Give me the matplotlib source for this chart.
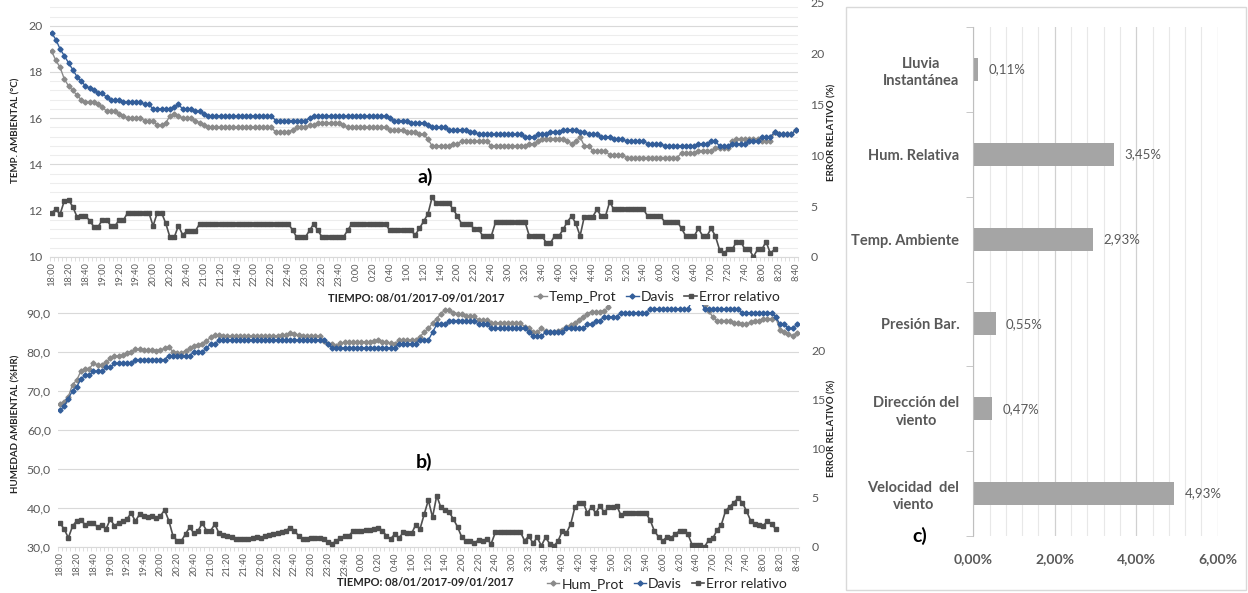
import numpy as np
import matplotlib.pyplot as plt
from matplotlib.lines import Line2D
from matplotlib.patches import Rectangle
from matplotlib.ticker import MultipleLocator, FuncFormatter

plt.rcParams['font.family'] = ['Lato', 'DejaVu Sans']

# x axis: one reading every 5 minutes, a label every 20 minutes
time_labels = ["18:00", "18:20", "18:40", "19:00", "19:20", "19:40", "20:00", "20:20", "20:40",
               "21:00", "21:20", "21:40", "22:00", "22:20", "22:40", "23:00", "23:20", "23:40",
               "0:00", "0:20", "0:40", "1:00", "1:20", "1:40", "2:00", "2:20", "2:40",
               "3:00", "3:20", "3:40", "4:00", "4:20", "4:40", "5:00", "5:20", "5:40",
               "6:00", "6:20", "6:40", "7:00", "7:20", "7:40", "8:00", "8:20", "8:40"]

# a) temperatura (°C) and relative error (%)
temp_prot = [18.9, 18.5, 18.2, 17.7, 17.4, 17.2, 17.0, 16.8, 16.7, 16.7, 16.7, 16.6,
             16.5, 16.3, 16.3, 16.3, 16.2, 16.1, 16.0, 16.0, 16.0, 16.0, 15.9, 15.9,
             15.9, 15.7, 15.7, 15.8, 16.1, 16.2, 16.1, 16.0, 16.0, 16.0, 15.9, 15.8,
             15.7, 15.6, 15.6, 15.6, 15.6, 15.6, 15.6, 15.6, 15.6, 15.6, 15.6, 15.6,
             15.6, 15.6, 15.6, 15.6, 15.6, 15.4, 15.4, 15.4, 15.4, 15.5, 15.6, 15.6,
             15.6, 15.7, 15.7, 15.8, 15.8, 15.8, 15.8, 15.8, 15.8, 15.7, 15.6, 15.6,
             15.6, 15.6, 15.6, 15.6, 15.6, 15.6, 15.6, 15.6, 15.5, 15.5, 15.5, 15.5,
             15.4, 15.4, 15.4, 15.3, 15.3, 15.1, 14.8, 14.8, 14.8, 14.8, 14.8, 14.9,
             14.9, 15.0, 15.0, 15.0, 15.0, 15.0, 15.0, 15.0, 14.8, 14.8, 14.8, 14.8,
             14.8, 14.8, 14.8, 14.8, 14.8, 14.9, 14.9, 15.0, 15.1, 15.1, 15.1, 15.1,
             15.1, 15.1, 15.0, 14.9, 15.0, 15.2, 14.8, 14.8, 14.6, 14.6, 14.6, 14.6,
             14.4, 14.4, 14.4, 14.4, 14.3, 14.3, 14.3, 14.3, 14.3, 14.3, 14.3, 14.3,
             14.3, 14.3, 14.3, 14.3, 14.3, 14.5, 14.5, 14.5, 14.5, 14.6, 14.6, 14.6,
             14.6, 14.7, 14.7, 14.7, 14.7, 15.0, 15.1, 15.1, 15.1, 15.1, 15.1, 15.1,
             15.0, 15.0, 15.0, 15.4, 15.3, 15.3, 15.3, 15.3, 15.5]

temp_davis = [19.7, 19.4, 19.0, 18.7, 18.4, 18.1, 17.8, 17.6, 17.4, 17.3, 17.2, 17.1,
              17.1, 16.9, 16.8, 16.8, 16.8, 16.7, 16.7, 16.7, 16.7, 16.7, 16.6, 16.6,
              16.4, 16.4, 16.4, 16.4, 16.4, 16.5, 16.6, 16.4, 16.4, 16.4, 16.3, 16.3,
              16.2, 16.1, 16.1, 16.1, 16.1, 16.1, 16.1, 16.1, 16.1, 16.1, 16.1, 16.1,
              16.1, 16.1, 16.1, 16.1, 16.1, 15.9, 15.9, 15.9, 15.9, 15.9, 15.9, 15.9,
              15.9, 16.0, 16.1, 16.1, 16.1, 16.1, 16.1, 16.1, 16.1, 16.1, 16.1, 16.1,
              16.1, 16.1, 16.1, 16.1, 16.1, 16.1, 16.1, 16.1, 16.0, 15.9, 15.9, 15.9,
              15.9, 15.8, 15.8, 15.8, 15.8, 15.7, 15.6, 15.6, 15.6, 15.6, 15.5, 15.5,
              15.5, 15.5, 15.5, 15.4, 15.4, 15.3, 15.3, 15.3, 15.3, 15.3, 15.3, 15.3,
              15.3, 15.3, 15.3, 15.3, 15.2, 15.2, 15.2, 15.3, 15.3, 15.3, 15.4, 15.4,
              15.4, 15.5, 15.5, 15.5, 15.5, 15.4, 15.4, 15.3, 15.3, 15.3, 15.2, 15.2,
              15.2, 15.1, 15.1, 15.1, 15.0, 15.0, 15.0, 15.0, 15.0, 14.9, 14.9, 14.9,
              14.9, 14.8, 14.8, 14.8, 14.8, 14.8, 14.8, 14.8, 14.8, 14.9, 14.9, 14.9,
              15.0, 15.0, 14.8, 14.8, 14.8, 14.9, 14.9, 14.9, 14.9, 15.0, 15.0, 15.0,
              15.2, 15.2, 15.2, 15.4, 15.3, 15.3, 15.3, 15.3, 15.5]

temp_error = [4.35, 4.67, 4.2, 5.5, 5.6, 4.93, 3.95, 4.05, 4.05, 3.56, 2.97, 2.97,
              3.63, 3.63, 3.07, 3.07, 3.63, 3.63, 4.35, 4.35, 4.35, 4.35, 4.35, 4.35,
              3.04, 4.35, 4.35, 3.3, 1.93, 1.93, 3.07, 2.16, 2.55, 2.55, 2.55, 3.24,
              3.24, 3.24, 3.24, 3.24, 3.24, 3.24, 3.24, 3.24, 3.24, 3.24, 3.24, 3.24,
              3.24, 3.24, 3.24, 3.24, 3.24, 3.24, 3.24, 3.24, 3.24, 2.65, 1.93, 1.93,
              1.93, 2.6, 3.24, 2.6, 1.93, 1.93, 1.93, 1.93, 1.93, 1.93, 2.6, 3.24,
              3.24, 3.24, 3.24, 3.24, 3.24, 3.24, 3.24, 3.24, 2.6, 2.6, 2.6, 2.6,
              2.6, 2.6, 2.16, 2.8, 3.5, 4.2, 5.85, 5.26, 5.26, 5.26, 5.26, 4.67,
              4.0, 3.24, 3.24, 3.24, 2.7, 2.7, 2.06, 2.06, 2.06, 3.4, 3.4, 3.4,
              3.4, 3.4, 3.4, 3.4, 3.4, 2.06, 2.06, 2.06, 2.06, 1.4, 1.4, 2.06,
              2.06, 2.7, 3.46, 4.0, 3.3, 2.06, 3.95, 3.95, 3.95, 4.67, 4.0, 4.0,
              5.4, 4.67, 4.67, 4.67, 4.67, 4.67, 4.67, 4.67, 4.67, 4.0, 4.0, 4.0,
              4.0, 3.46, 3.46, 3.46, 3.46, 2.8, 2.06, 2.06, 2.06, 2.8, 2.06, 2.06,
              2.8, 2.06, 0.7, 0.36, 0.75, 0.75, 1.5, 1.5, 0.75, 0.75, 0.03, 0.75,
              0.75, 1.5, 0.36, 0.75]

# b) humedad (%HR) and relative error (%)
hum_prot = [66.6, 67.2, 68.5, 71.6, 72.7, 75.1, 75.7, 75.7, 77.0, 76.6, 76.6, 77.4,
            78.3, 78.9, 78.9, 79.1, 79.6, 80.0, 80.6, 80.6, 80.4, 80.4, 80.4, 80.3,
            80.4, 80.9, 81.2, 80.0, 79.6, 79.6, 80.3, 80.9, 81.5, 81.7, 82.1, 82.8,
            83.7, 84.3, 84.3, 84.0, 84.0, 84.0, 84.0, 84.0, 84.0, 84.0, 84.1, 84.1,
            84.1, 84.1, 84.1, 84.1, 84.1, 84.2, 84.4, 84.8, 84.6, 84.2, 84.0, 84.0,
            84.0, 84.0, 84.0, 82.8, 82.1, 82.1, 81.5, 82.2, 82.4, 82.4, 82.5, 82.5,
            82.5, 82.6, 82.5, 82.7, 82.9, 82.6, 82.4, 82.2, 82.0, 83.0, 83.0, 83.0,
            83.0, 83.0, 83.8, 85.1, 86.0, 87.3, 88.5, 89.8, 90.7, 90.7, 90.0, 89.8,
            89.6, 89.1, 89.1, 89.1, 88.1, 88.1, 88.1, 87.3, 87.3, 87.4, 87.4, 87.4,
            87.4, 87.4, 87.4, 86.4, 86.0, 85.1, 85.1, 86.0, 85.3, 85.0, 85.0, 85.3,
            85.5, 86.4, 86.8, 87.3, 88.2, 89.0, 89.8, 90.3, 90.3, 90.3, 90.5, 91.5,
            93.0, 94.0, 95.0, 95.0, 95.0, 95.0, 95.0, 95.0, 95.0, 95.0, 95.0, 95.0,
            95.0, 95.0, 95.0, 95.0, 95.0, 95.0, 95.0, 95.0, 94.0, 93.0, 92.0, 90.5,
            88.8, 88.0, 88.0, 88.0, 88.0, 87.3, 87.3, 87.0, 87.0, 87.6, 87.8, 88.0,
            88.5, 88.5, 88.5, 88.8, 85.6, 85.0, 84.6, 84.1, 84.9]

hum_davis = [65, 66, 68, 70, 71, 73, 74, 74, 75, 75, 75, 76,
             76, 77, 77, 77, 77, 77, 78, 78, 78, 78, 78, 78,
             78, 78, 79, 79, 79, 79, 79, 79, 80, 80, 80, 81,
             82, 82, 83, 83, 83, 83, 83, 83, 83, 83, 83, 83,
             83, 83, 83, 83, 83, 83, 83, 83, 83, 83, 83, 83,
             83, 83, 83, 83, 82, 81, 81, 81, 81, 81, 81, 81,
             81, 81, 81, 81, 81, 81, 81, 81, 81, 82, 82, 82,
             82, 82, 83, 83, 83, 85, 87, 87, 87, 88, 88, 88,
             88, 88, 88, 88, 87, 87, 87, 86, 86, 86, 86, 86,
             86, 86, 86, 86, 85, 84, 84, 84, 85, 85, 85, 85,
             85, 86, 86, 86, 86, 86, 87, 87, 88, 88, 89, 89,
             89, 89, 90, 90, 90, 90, 90, 90, 90, 91, 91, 91,
             91, 91, 91, 91, 91, 91, 91, 93, 93, 93, 91, 91,
             91, 91, 91, 91, 91, 91, 91, 90, 90, 90, 90, 90,
             90, 90, 90, 89, 87, 87, 86, 86, 87]

hum_error = [2.4, 1.8, 0.9, 2.1, 2.65, 2.7, 2.25, 2.4, 2.4, 2.0, 2.25, 1.8,
             2.8, 2.15, 2.4, 2.6, 2.8, 3.45, 2.6, 3.3, 3.15, 3.05, 3.15, 2.95,
             3.15, 3.75, 2.65, 1.1, 0.6, 0.6, 1.3, 2.0, 1.35, 1.65, 2.4, 1.65,
             1.65, 2.3, 1.35, 1.2, 1.1, 0.95, 0.8, 0.75, 0.75, 0.8, 0.9, 1.0,
             0.9, 1.1, 1.2, 1.3, 1.4, 1.55, 1.65, 1.95, 1.65, 1.1, 0.8, 0.8,
             0.85, 0.9, 0.9, 0.8, 0.5, 0.3, 0.6, 0.9, 1.1, 1.1, 1.6, 1.65,
             1.65, 1.7, 1.75, 1.8, 1.95, 1.65, 1.1, 0.8, 1.3, 0.9, 1.45, 1.35,
             1.35, 2.25, 1.8, 3.3, 4.75, 3.0, 5.2, 4.0, 3.75, 3.5, 2.8, 2.0,
             0.95, 0.6, 0.55, 0.35, 0.7, 0.6, 0.75, 0.3, 1.45, 1.5, 1.5, 1.5,
             1.5, 1.5, 1.5, 0.6, 1.1, 0.35, 0.95, 0.1, 0.95, 0.3, 0.05, 0.6,
             1.6, 1.4, 2.3, 4.0, 4.5, 4.5, 3.4, 4.1, 3.4, 4.2, 3.5, 4.0,
             4.1, 4.2, 3.2, 3.4, 3.4, 3.4, 3.4, 3.4, 3.4, 2.7, 1.6, 1.0,
             0.6, 1.0, 0.9, 1.3, 1.6, 1.6, 1.3, 0.2, 0.15, 0.15, 0.0, 0.7,
             0.9, 1.7, 2.25, 3.65, 4.1, 4.5, 4.95, 4.5, 3.65, 2.65, 2.3, 2.25,
             2.15, 2.6, 2.3, 1.8]

# c) mean relative error per variable (bottom to top)
variables = ["Velocidad  del\nviento", "Dirección del\nviento", "Presión Bar.",
             "Temp. Ambiente", "Hum. Relativa", "Lluvia\nInstantánea"]
error_medio = [4.93, 0.47, 0.55, 2.93, 3.45, 0.11]

W, H = 1248, 593
TXT = '#595959'
GREY = '#8A8A8A'
BLUE = '#335E9A'
DARK = '#505050'


def box(left, top, right, bottom):
    # pixel box -> figure fraction
    return [left / W, 1 - bottom / H, (right - left) / W, (bottom - top) / H]


def comma(fmt):
    return FuncFormatter(lambda v, p: fmt.format(v).replace('.', ','))


def line_panel(rect, prot, davis, err, ylim, ystep, ygrid_minor, rlim, yfmt, err_ms):
    ax = fig.add_axes(rect)
    axr = ax.twinx()
    x = np.arange(len(prot))
    ax.plot(x, prot, color=GREY, marker='D', ms=2.6, lw=1)
    ax.plot(x, davis, color=BLUE, marker='D', ms=2.6, lw=1)
    axr.plot(np.arange(len(err)), err, color=DARK, marker='s', ms=err_ms, lw=1.2)

    ax.set_xlim(-0.5, len(prot) - 0.5)
    ax.set_ylim(*ylim)
    axr.set_ylim(*rlim)
    ax.set_xticks(np.arange(0, len(prot), 4))
    ax.set_xticklabels(time_labels, rotation=90, fontsize=6.7, color=TXT)
    ax.set_xticks(np.arange(-0.5, len(prot), 1), minor=True)
    ax.tick_params(axis='x', which='major', length=0, pad=4)
    ax.tick_params(axis='x', which='minor', length=3, color='#D9D9D9')

    ax.yaxis.set_major_locator(MultipleLocator(ystep))
    ax.yaxis.set_major_formatter(comma(yfmt))
    ax.tick_params(axis='y', length=0, labelsize=8.8, labelcolor=TXT, pad=5)
    axr.yaxis.set_major_locator(MultipleLocator(5))
    axr.tick_params(axis='y', length=0, labelsize=8.8, labelcolor=TXT, pad=9)

    ax.grid(axis='y', which='major', color='#D9D9D9', lw=0.8)
    if ygrid_minor:
        ax.yaxis.set_minor_locator(MultipleLocator(ygrid_minor))
        ax.tick_params(axis='y', which='minor', length=0)
        ax.grid(axis='y', which='minor', color='#EDEDED', lw=0.8)
    ax.set_axisbelow(True)
    for a in (ax, axr):
        for s in ('top', 'left', 'right', 'bottom'):
            a.spines[s].set_visible(False)
    ax.spines['bottom'].set_visible(True)
    ax.spines['bottom'].set_color('#D9D9D9')
    return ax


fig = plt.figure(figsize=(12.48, 5.93), dpi=100)

# a) temperature panel (top edge runs just past the picture, as in the source)
line_panel(box(49.5, -2, 797.8, 257), temp_prot, temp_davis, temp_error,
           (10, 21.2), 2, 0.4, (0, 25.4), '{:.0f}', 3.2)
# b) humidity panel
line_panel(box(57.9, 305, 798.8, 546.7), hum_prot, hum_davis, hum_error,
           (30, 92), 10, None, (0, 24.66), '{:.1f}', 2.6)

lab = dict(fontsize=7, fontweight='bold', color='#262626', rotation=90, ha='center', va='center')
fig.text(16 / W, 1 - 130 / H, "TEMP. AMBIENTAL (°C)", **lab)
fig.text(832 / W, 1 - 132 / H, "ERROR RELATIVO (%)", **lab)
fig.text(16 / W, 1 - 424 / H, "HUMEDAD AMBIENTAL (%HR)", **lab)
fig.text(832 / W, 1 - 428 / H, "ERROR RELATIVO (%)", **lab)

fig.text(416 / W, 1 - 298 / H, "TIEMPO: 08/01/2017-09/01/2017", fontsize=8,
         fontweight='bold', color='#262626', ha='center', va='center')
fig.text(425 / W, 1 - 582 / H, "TIEMPO: 08/01/2017-09/01/2017", fontsize=8,
         fontweight='bold', color='#262626', ha='center', va='center')

fig.text(425 / W, 1 - 177 / H, "a)", fontsize=14, fontweight='bold', ha='center', va='center')
fig.text(424 / W, 1 - 462 / H, "b)", fontsize=14, fontweight='bold', ha='center', va='center')


def legend_handles():
    return [Line2D([], [], color=GREY, marker='D', ms=2.6, lw=1),
            Line2D([], [], color=BLUE, marker='D', ms=2.6, lw=1),
            Line2D([], [], color=DARK, marker='s', ms=2.6, lw=1.2)]


leg_kw = dict(loc='center', ncol=3, frameon=False, fontsize=10, handlelength=0.9,
              handletextpad=0.15, columnspacing=0.7, labelcolor='#262626')
fig.legend(legend_handles(), ["Temp_Prot", "Davis", "Error relativo"],
           bbox_to_anchor=(657 / W, 1 - 297 / H), **leg_kw)
fig.legend(legend_handles(), ["Hum_Prot", "Davis", "Error relativo"],
           bbox_to_anchor=(667 / W, 1 - 584 / H), **leg_kw)

# c) bar panel
fig.patches.append(Rectangle((846 / W, 3 / H), 400 / W, 583 / H, transform=fig.transFigure,
                             fill=False, ec='#D9D9D9', lw=1))
axb = fig.add_axes(box(973.3, 27, 1217.7, 536))
ypos = np.arange(len(variables))
axb.barh(ypos, error_medio, height=0.27, color='#A5A5A5')
for y, v in zip(ypos, error_medio):
    axb.annotate(f"{v:.2f}%".replace('.', ','), (v, y), xytext=(7.5, 0),
                 textcoords='offset points', va='center', ha='left', fontsize=9.5, color=TXT)
axb.set_xlim(0, 6)
axb.set_ylim(-0.5, len(variables) - 0.5)
axb.xaxis.set_major_locator(MultipleLocator(2))
axb.xaxis.set_minor_locator(MultipleLocator(0.4))
axb.xaxis.set_major_formatter(comma('{:.2f}%'))
axb.grid(axis='x', which='major', color='#D0D0D0', lw=0.9)
axb.grid(axis='x', which='minor', color='#E8E8E8', lw=0.8)
axb.set_axisbelow(True)
axb.set_yticks(ypos)
axb.set_yticklabels(variables, fontsize=10.5, fontweight='bold', color=TXT,
                    multialignment='center', linespacing=1.3)
axb.set_yticks(np.arange(-0.5, len(variables), 1), minor=True)
axb.tick_params(axis='y', which='major', length=0, pad=10)
axb.tick_params(axis='y', which='minor', length=5, color='#BFBFBF')
axb.tick_params(axis='x', which='both', length=0, pad=12)
for t in axb.get_xticklabels():
    t.set_fontsize(10)
    t.set_fontweight('bold')
    t.set_color(TXT)
for s in ('top', 'right', 'bottom'):
    axb.spines[s].set_visible(False)
axb.spines['left'].set_color('#BFBFBF')
fig.text(920 / W, 1 - 536 / H, "c)", fontsize=14, fontweight='bold', ha='center', va='center')

fig.savefig("out.png", dpi=100)
